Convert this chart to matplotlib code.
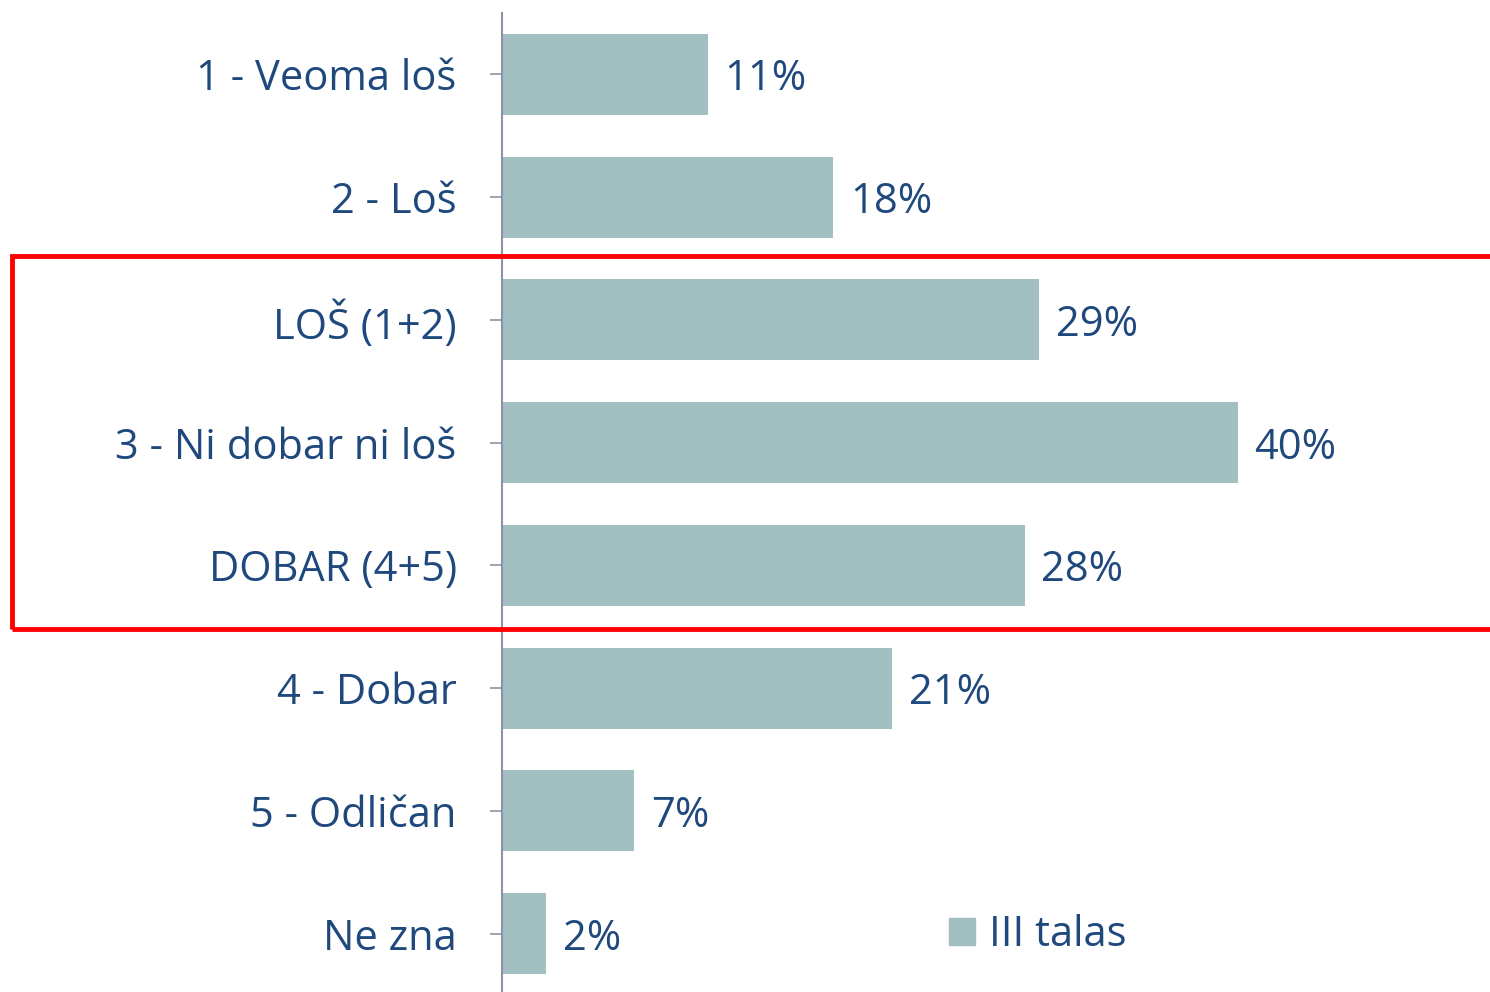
import matplotlib
matplotlib.use('Agg')
import matplotlib.pyplot as plt
from matplotlib.patches import Rectangle, Patch

categories = ['1 - Veoma loš', '2 - Loš', 'LOŠ (1+2)', '3 - Ni dobar ni loš',
              'DOBAR (4+5)', '4 - Dobar', '5 - Odličan', 'Ne zna']
values = [11.2, 18.0, 29.2, 40.0, 28.4, 21.2, 7.2, 2.4]
labels = ['11%', '18%', '29%', '40%', '28%', '21%', '7%', '2%']
series_name = 'III talas'

text_col = '#1F497D'
bar_col = '#A2C0C1'
axis_col = '#8E92A8'

plt.rcParams['font.family'] = ['Open Sans', 'DejaVu Sans']
fs = 30

fig = plt.figure(figsize=(14.9, 9.92), dpi=100)
# axes spans from 13 px below top to slightly past the bottom edge
ax = fig.add_axes([502/1490, -3/992, 1 - 502/1490, 982/992])

y = range(len(categories))
ax.barh(y, values, height=0.66, color=bar_col)
for i, (v, t) in enumerate(zip(values, labels)):
    ax.text(v + 0.9, i, t, va='center_baseline', ha='left', fontsize=fs, color=text_col)

ax.set_ylim(len(categories) - 0.5, -0.5)
ax.set_xlim(0, 988/18.4)
ax.set_yticks(list(y))
ax.set_yticklabels(categories, fontsize=fs, color=text_col)
ax.tick_params(axis='y', length=8.6, width=1.2, color=axis_col, pad=24)
ax.set_xticks([])
for s in ['top', 'right', 'bottom']:
    ax.spines[s].set_visible(False)
ax.spines['left'].set_color(axis_col)
ax.spines['left'].set_linewidth(1.5)

# red highlight box
y0 = 1 - 629/992
y1 = 1 - 256/992
fig.patches.append(Rectangle((12/1490, y0), 1.1, y1 - y0, transform=fig.transFigure,
                             fill=False, edgecolor='#FF0000', linewidth=3.5,
                             clip_on=False))

ax.legend(handles=[Patch(color=bar_col, label=series_name)], loc='center left',
          bbox_to_anchor=(949/1490, 1 - 935/992), bbox_transform=fig.transFigure,
          frameon=False, fontsize=fs, handlelength=0.62, handleheight=0.62,
          handletextpad=0.35, borderpad=0, borderaxespad=0, labelcolor=text_col)

fig.savefig('out.png', dpi=100)
